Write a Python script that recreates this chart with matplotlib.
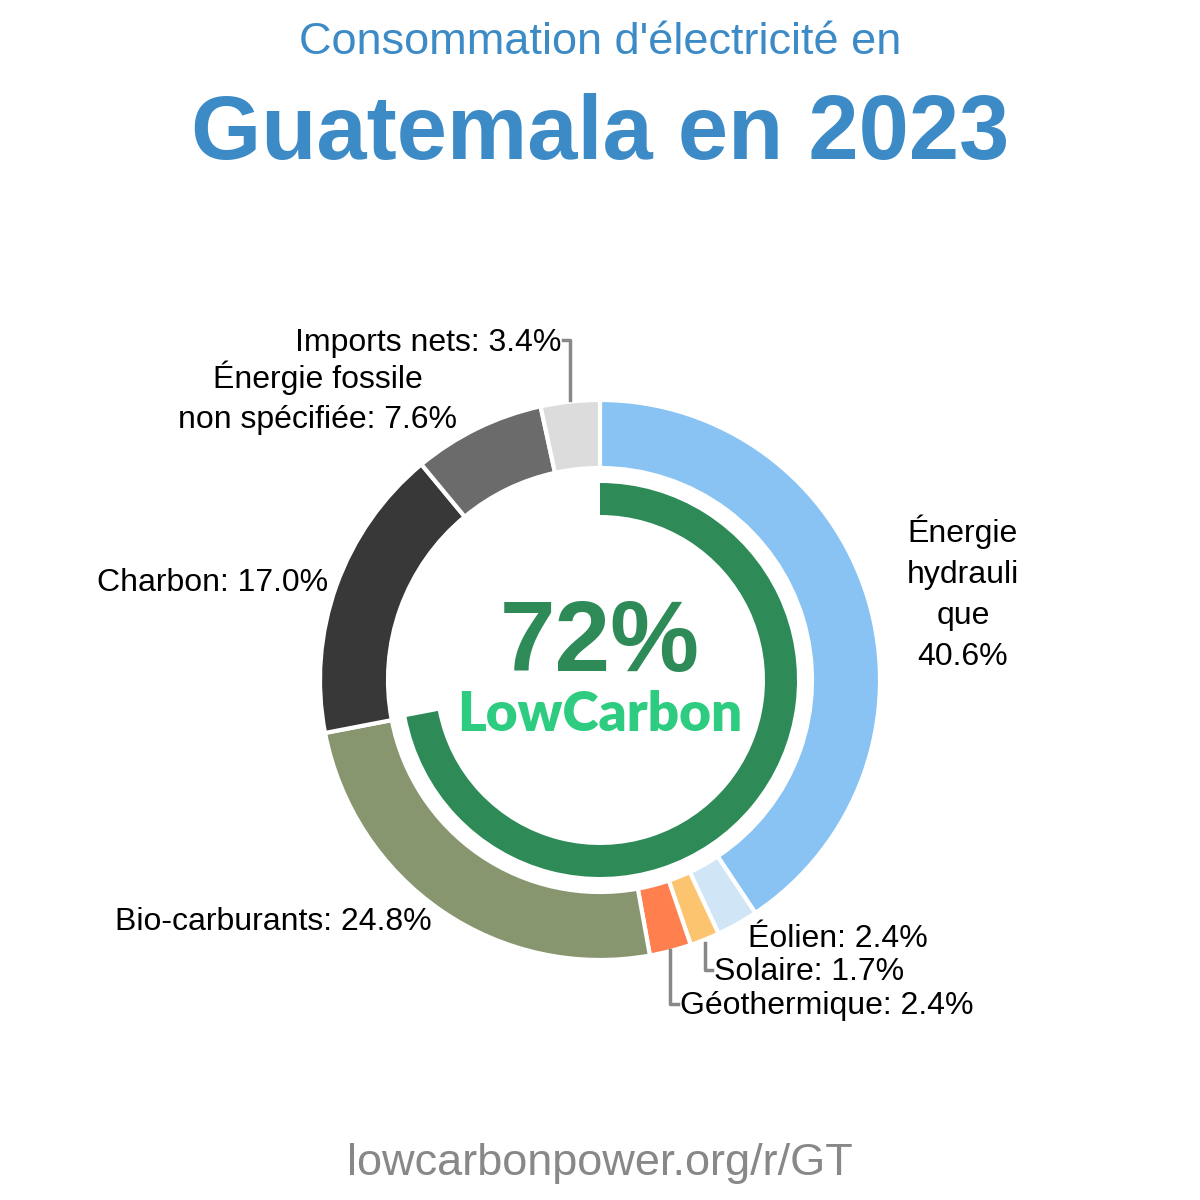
import matplotlib.pyplot as plt

# Data
sources = ["Énergie hydraulique", "Éolien", "Solaire", "Géothermique",
           "Bio-carburants", "Charbon", "Énergie fossile non spécifiée", "Imports nets"]
shares = [40.6, 2.4, 1.7, 2.4, 24.8, 17.0, 7.6, 3.4]
colors = ["#89c3f3", "#d0e6f7", "#fdc470", "#ff7f4f",
          "#889670", "#383838", "#6b6b6b", "#dcdcdc"]
low_carbon = 72

W = 1200
fig = plt.figure(figsize=(12, 12), dpi=100)
ax = fig.add_axes([0, 0, 1, 1])

def Y(py):
    # convert pixel row (from top) to data y
    return W - py

cx, cy = 600, Y(680)

# outer ring
ax.pie(shares, colors=colors, startangle=90, counterclock=False,
       center=(cx, cy), radius=280, frame=True,
       wedgeprops=dict(width=68, edgecolor="white", linewidth=3))

# inner low-carbon arc
ax.pie([low_carbon, 100 - low_carbon], colors=["#2e8b57", "none"],
       startangle=90, counterclock=False, center=(cx, cy), radius=197,
       frame=True, wedgeprops=dict(width=32, edgecolor="none"))
ax.set_xlim(0, W)
ax.set_ylim(0, W)
ax.set_aspect("equal")
ax.axis("off")

font = "Liberation Sans"

# titles
ax.text(600, Y(42), "Consommation d'électricité en", ha="center", va="center",
        fontsize=32.5, color="#3d8bc6", family=font)
ax.text(600, Y(136), "Guatemala en 2023", ha="center", va="center",
        fontsize=65, fontweight="bold", color="#3d8bc6", family=font)

# centre text
ax.text(600, Y(645), f"{low_carbon}%", ha="center", va="center",
        fontsize=72, fontweight="bold", color="#2e8b57", family=font)
ax.text(600, Y(715), "LowCarbon", ha="center", va="center",
        fontsize=39.5, fontweight="heavy", color="#2ecc80", family="Lato")

# labels
lab = dict(fontsize=23, color="black", family=font)
ax.text(963, Y(593), f"Énergie\nhydrauli\nque\n{shares[0]}%", ha="center",
        va="center", linespacing=1.48, **lab)
ax.text(748, Y(939), f"Éolien: {shares[1]}%", ha="left", va="center", **lab)
ax.text(714, Y(972), f"Solaire: {shares[2]}%", ha="left", va="center", **lab)
ax.text(680, Y(1006), f"Géothermique: {shares[3]}%", ha="left", va="center", **lab)
ax.text(432, Y(922), f"Bio-carburants: {shares[4]}%", ha="right", va="center", **lab)
ax.text(328, Y(583), f"Charbon: {shares[5]}%", ha="right", va="center", **lab)
ax.text(318, Y(398), f"Énergie fossile\nnon spécifiée: {shares[6]}%", ha="center",
        va="center", linespacing=1.43, **lab)
ax.text(561, Y(343), f"Imports nets: {shares[7]}%", ha="right", va="center", **lab)

# leader lines
grey = "#888888"
ax.plot([563, 570, 570], [Y(340), Y(340), Y(400)], color=grey, lw=2.5)
ax.plot([705, 705, 712], [Y(943), Y(970), Y(970)], color=grey, lw=2.5)
ax.plot([670, 670, 678], [Y(950), Y(1004), Y(1004)], color=grey, lw=2.5)

# footer
ax.text(600, Y(1163), "lowcarbonpower.org/r/GT", ha="center", va="center",
        fontsize=32.5, color="#888888", family=font)

fig.savefig("out.png", dpi=100, facecolor="white")
